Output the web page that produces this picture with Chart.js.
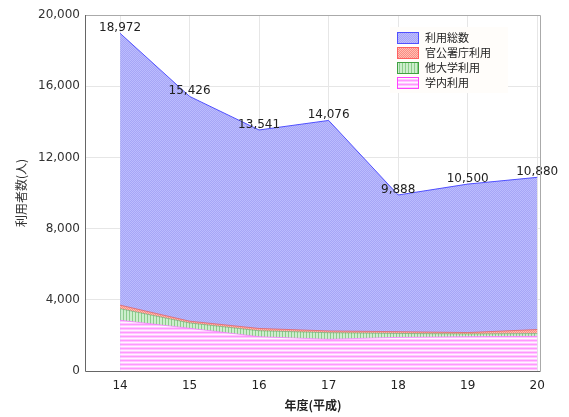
<!DOCTYPE html>
<html>
<head>
<meta charset="utf-8">
<script src="https://cdn.jsdelivr.net/npm/chart.js@4.4.0/dist/chart.umd.min.js"></script>
<style>
  html, body { margin: 0; padding: 0; background: #fff; }
  #wrap { width: 569px; height: 417px; }
</style>
</head>
<body>
<div id="wrap"><canvas id="chart" width="569" height="417"></canvas></div>
<script>
// 年度(平成)
const years = [14, 15, 16, 17, 18, 19, 20];
// 利用総数
const totalUsers = [18972, 15426, 13541, 14076, 9888, 10500, 10880];
// 学内利用
const campusUsers = [2850, 2400, 1930, 1780, 1890, 1930, 1950];
// 他大学利用
const otherUnivUsers = [650, 300, 330, 370, 220, 150, 150];
// 官公署庁利用
const officeUsers = [200, 100, 130, 100, 100, 80, 230];
// 軸の目盛り
const yTicks = [0, 4000, 8000, 12000, 16000, 20000];

const FONT = '"DejaVu Sans", "Noto Sans CJK JP", sans-serif';
const JP_FONT = '"Noto Sans CJK JP", "DejaVu Sans", sans-serif';

// 塗りつぶし用のパターン
function makePattern(w, h, draw) {
    const c = document.createElement('canvas');
    c.width = w; c.height = h;
    const g = c.getContext('2d');
    draw(g);
    return document.getElementById('chart').getContext('2d').createPattern(c, 'repeat');
}
const bluePattern = makePattern(2, 2, g => {
    g.fillStyle = 'rgb(166,166,246)'; g.fillRect(0, 0, 2, 2);
    g.fillStyle = 'rgb(188,188,254)'; g.fillRect(0, 0, 1, 1); g.fillRect(1, 1, 1, 1);
});
const redPattern = makePattern(2, 2, g => {
    g.fillStyle = 'rgb(250,140,130)'; g.fillRect(0, 0, 2, 2);
    g.fillStyle = 'rgb(255,190,180)'; g.fillRect(0, 0, 1, 1); g.fillRect(1, 1, 1, 1);
});
const greenPattern = makePattern(3, 1, g => {
    g.fillStyle = 'rgb(205,238,205)'; g.fillRect(0, 0, 3, 1);
    g.fillStyle = 'rgb(140,205,140)'; g.fillRect(0, 0, 1, 1);
});
const pinkPattern = makePattern(1, 4, g => {
    g.fillStyle = 'rgb(255,200,255)'; g.fillRect(0, 0, 1, 4);
    g.fillStyle = 'rgb(255,150,255)'; g.fillRect(0, 0, 1, 1);
    g.fillStyle = 'rgb(255,245,255)'; g.fillRect(0, 2, 1, 1);
});

function pts(vals) {
    return years.map((yr, i) => ({ x: yr, y: vals[i] }));
}

// 凡例の項目(表示順)
const legendNames = ['利用総数', '官公署庁利用', '他大学利用', '学内利用'];
const legendFills = [bluePattern, redPattern, greenPattern, pinkPattern];
const legendBorders = ['#5050ff', '#ff6060', '#40a040', '#ff40ff'];

// 数値ラベルと凡例、枠を描くプラグイン
const extras = {
    id: 'extras',
    afterDatasetsDraw(chart) {
        const ctx = chart.ctx;
        const meta = chart.getDatasetMeta(0);
        ctx.save();
        ctx.font = '12px ' + FONT;
        ctx.fillStyle = '#222';
        ctx.textAlign = 'center';
        ctx.textBaseline = 'alphabetic';
        meta.data.forEach((p, i) => {
            ctx.fillText(totalUsers[i].toLocaleString('en-US'), p.x, p.y - 2);
        });
        ctx.restore();
    },
    afterDraw(chart) {
        const ctx = chart.ctx;
        const a = chart.chartArea;
        ctx.save();
        // 枠
        ctx.lineWidth = 1;
        ctx.strokeStyle = '#aaa';
        ctx.beginPath();
        ctx.moveTo(a.left, a.top + 0.5); ctx.lineTo(a.right + 0.5, a.top + 0.5);
        ctx.lineTo(a.right + 0.5, a.bottom);
        ctx.stroke();
        ctx.strokeStyle = '#666';
        ctx.beginPath();
        ctx.moveTo(a.left - 0.5, a.top); ctx.lineTo(a.left - 0.5, a.bottom + 0.5);
        ctx.lineTo(a.right + 0.5, a.bottom + 0.5);
        ctx.stroke();
        // 凡例
        const lx = 390, ly = 27;
        ctx.fillStyle = 'rgba(255,253,250,0.97)';
        ctx.fillRect(lx, ly, 118, 66);
        ctx.font = '11px ' + JP_FONT;
        ctx.textBaseline = 'middle';
        legendNames.forEach((name, i) => {
            const y = ly + 5 + i * 15;
            ctx.fillStyle = legendFills[i];
            ctx.fillRect(lx + 7, y, 22, 12);
            ctx.strokeStyle = legendBorders[i];
            ctx.strokeRect(lx + 7.5, y + 0.5, 21, 11);
            ctx.fillStyle = '#222';
            ctx.fillText(name, lx + 35, y + 6);
        });
        ctx.restore();
    }
};

const config = {
    type: 'line',
    data: {
        datasets: [
            {
                label: '利用総数',
                data: pts(totalUsers),
                stack: 'total',
                order: 1,
                fill: 'origin',
                backgroundColor: bluePattern,
                borderColor: '#5050ff',
                borderWidth: 1
            },
            {
                label: '学内利用',
                data: pts(campusUsers),
                stack: 'parts',
                order: 0,
                fill: 'origin',
                backgroundColor: pinkPattern,
                borderColor: 'rgba(255,110,255,0.6)',
                borderWidth: 1
            },
            {
                label: '他大学利用',
                data: pts(otherUnivUsers),
                stack: 'parts',
                order: 0,
                fill: '-1',
                backgroundColor: greenPattern,
                borderColor: 'rgba(90,170,90,0.5)',
                borderWidth: 1
            },
            {
                label: '官公署庁利用',
                data: pts(officeUsers),
                stack: 'parts',
                order: 0,
                fill: '-1',
                backgroundColor: redPattern,
                borderColor: 'rgba(230,90,90,0.7)',
                borderWidth: 1
            }
        ]
    },
    options: {
        responsive: false,
        animation: false,
        elements: { point: { radius: 0 }, line: { tension: 0 } },
        layout: { padding: { left: 0, right: 29, top: 15, bottom: 0 } },
        plugins: {
            legend: { display: false },
            tooltip: { enabled: false }
        },
        scales: {
            x: {
                type: 'linear',
                min: 13.51,
                max: 20.04,
                afterBuildTicks: s => { s.ticks = years.map(v => ({ value: v })); },
                afterFit: s => { s.height = 46; },
                grid: { color: '#e6e6e6', drawTicks: false },
                border: { display: false },
                ticks: {
                    padding: 8,
                    color: '#222',
                    font: { family: FONT, size: 12 },
                    callback: v => String(v)
                },
                title: {
                    display: true,
                    text: '年度(平成)',
                    color: '#222',
                    font: { family: JP_FONT, size: 12, weight: 'bold' },
                    padding: { top: 0, bottom: 4 }
                }
            },
            y: {
                stacked: true,
                min: 0,
                max: 20000,
                afterBuildTicks: s => { s.ticks = yTicks.map(v => ({ value: v })); },
                afterFit: s => { s.width = 86; },
                grid: { color: '#e6e6e6', drawTicks: false },
                border: { display: false },
                ticks: {
                    padding: 6,
                    color: '#333',
                    font: { family: FONT, size: 12 },
                    callback: v => v.toLocaleString('en-US')
                },
                title: {
                    display: true,
                    text: '利用者数(人)',
                    color: '#333',
                    font: { family: JP_FONT, size: 12 },
                    padding: { top: 14, bottom: 0 }
                }
            }
        }
    },
    plugins: [extras]
};

new Chart(document.getElementById('chart').getContext('2d'), config);
</script>
</body>
</html>
